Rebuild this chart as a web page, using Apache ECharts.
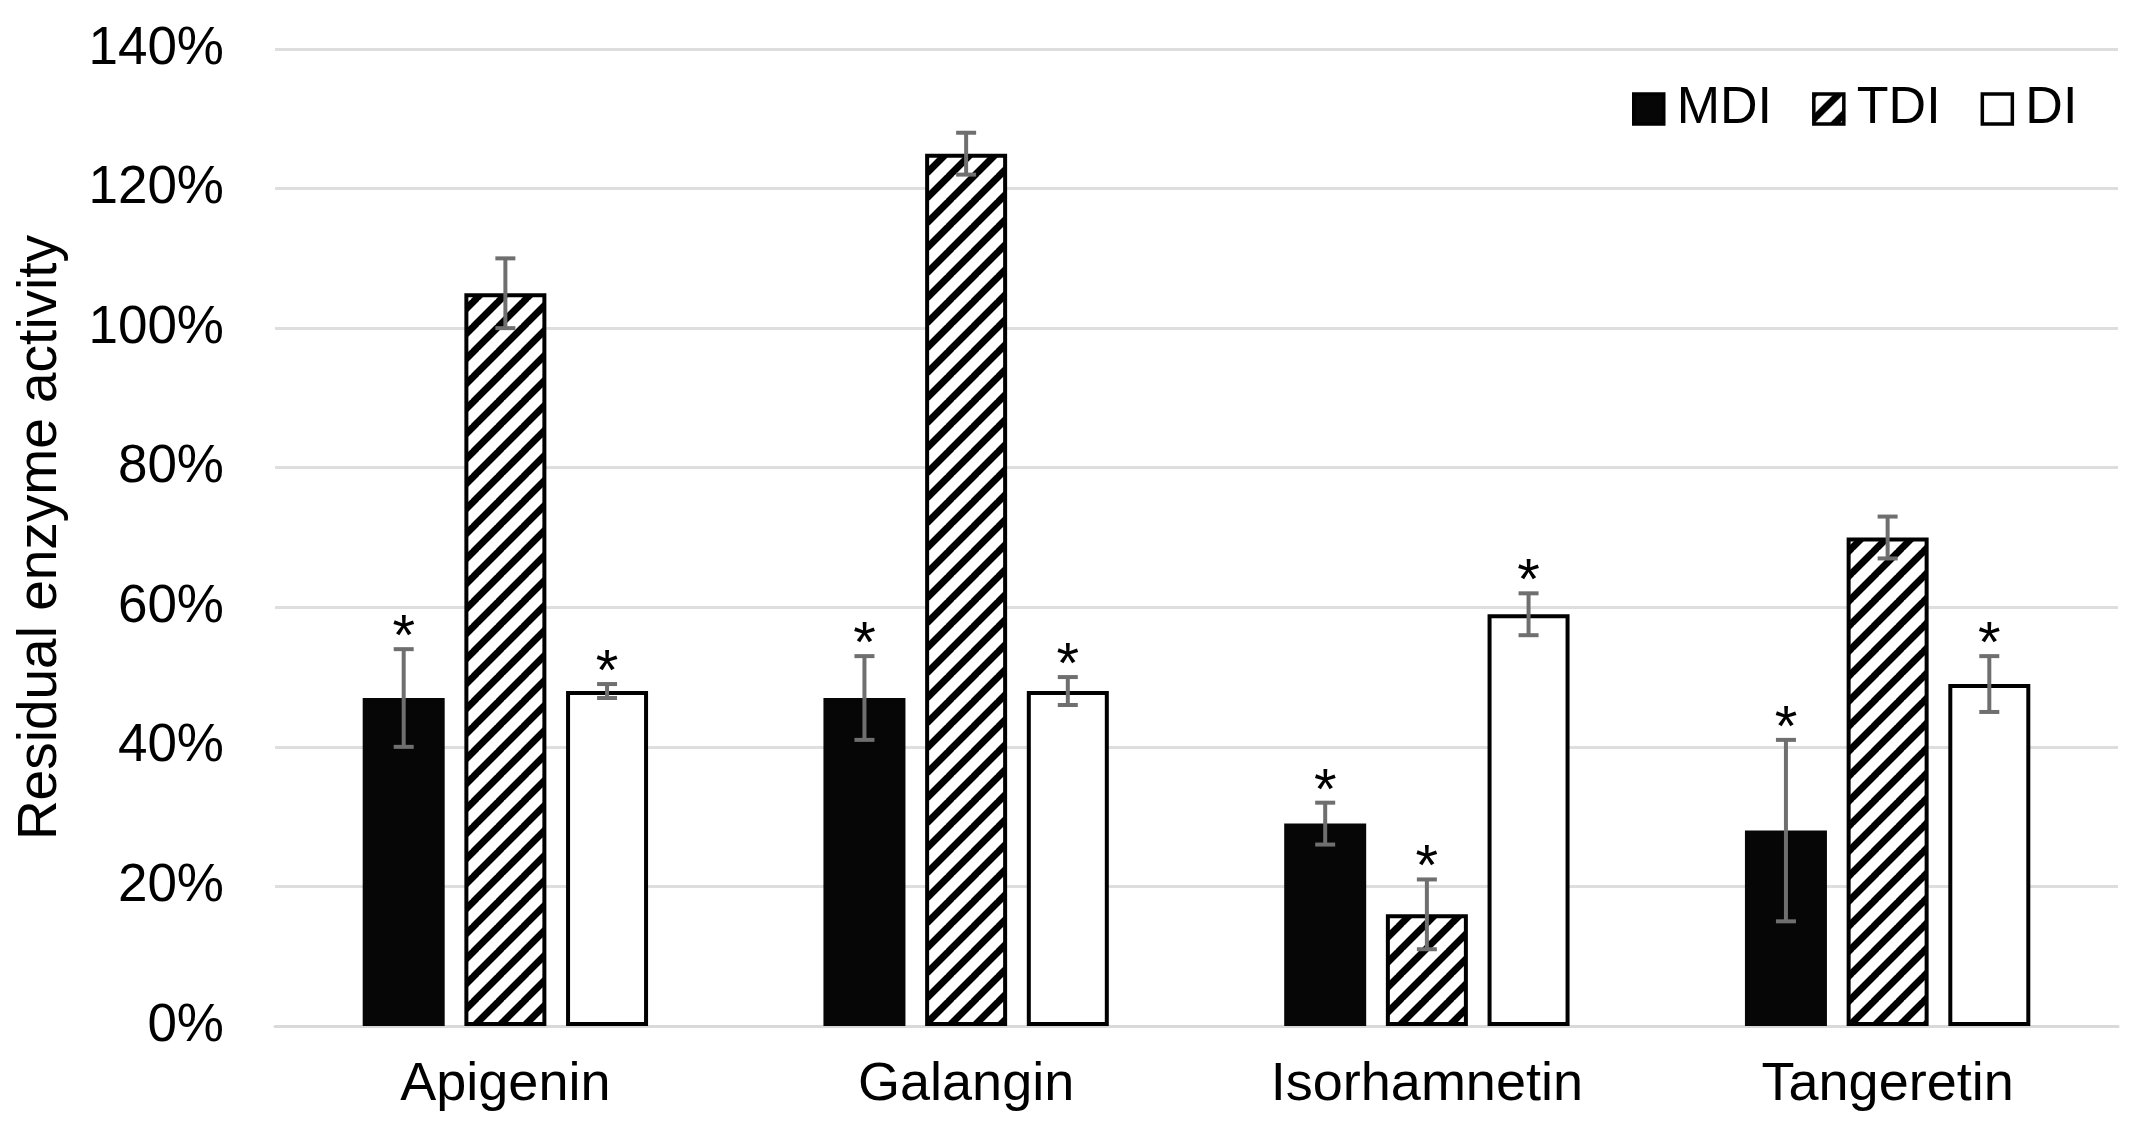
<!DOCTYPE html>
<html>
<head>
<meta charset="utf-8">
<script src="https://cdn.jsdelivr.net/npm/echarts@6/dist/echarts.min.js"></script>
<style>
  html, body { margin: 0; padding: 0; background: #fff; }
  #chart { width: 2132px; height: 1138px; }
</style>
</head>
<body>
<div id="chart"></div>
<script>
// ---- data ----
const categories = ['Apigenin', 'Galangin', 'Isorhamnetin', 'Tangeretin'];
const seriesNames = ['MDI', 'TDI', 'DI'];
const mdiValues = [47, 47, 29, 28];
const mdiErrors = [7, 6, 3, 13];
const mdiSignificant = [1, 1, 1, 1];
const tdiValues = [105, 125, 16, 70];
const tdiErrors = [5, 3, 5, 3];
const tdiSignificant = [0, 0, 1, 0];
const diValues = [48, 48, 59, 49];
const diErrors = [1, 2, 3, 4];
const diSignificant = [1, 1, 1, 1];
const yTicks = { min: 0, max: 140, interval: 20 };

// ---- styling ----
const FONT = "'Liberation Sans', Arial, sans-serif";
const BAR_W = 82;
const BAR_GAP = 0.24;

function makeHatch() {
  const p = 25;
  const c = document.createElement('canvas');
  c.width = p; c.height = p;
  const ctx = c.getContext('2d');
  ctx.fillStyle = '#fff';
  ctx.fillRect(0, 0, p, p);
  ctx.strokeStyle = '#000';
  ctx.lineWidth = 7;
  ctx.beginPath();
  for (let k = -1; k <= 1; k++) {
    ctx.moveTo(k * p - 2, p + 2);
    ctx.lineTo(k * p + p + 2, -2);
  }
  ctx.stroke();
  return c;
}
const hatch = { image: makeHatch(), repeat: 'repeat' };

const groups = [
  { name: seriesNames[0], values: mdiValues, errors: mdiErrors, sig: mdiSignificant,
    style: { color: '#060606', borderColor: '#000', borderWidth: 0 } },
  { name: seriesNames[1], values: tdiValues, errors: tdiErrors, sig: tdiSignificant,
    style: { color: hatch, borderColor: '#000', borderWidth: 4 } },
  { name: seriesNames[2], values: diValues, errors: diErrors, sig: diSignificant,
    style: { color: '#fff', borderColor: '#000', borderWidth: 4 } }
];

const barSeries = groups.map(g => ({
  name: g.name,
  type: 'bar',
  barWidth: BAR_W,
  barGap: (BAR_GAP * 100) + '%',
  itemStyle: g.style,
  emphasis: { disabled: true },
  data: g.values,
  z: 2
}));

const errData = [];
groups.forEach((g, si) => {
  g.values.forEach((v, ci) => {
    errData.push([ci, v, g.errors[ci], g.sig[ci], si]);
  });
});

const errSeries = {
  type: 'custom',
  name: 'err',
  z: 5,
  silent: true,
  data: errData,
  encode: { x: 0, y: 1 },
  renderItem: function (params, api) {
    const ci = api.value(0), v = api.value(1), e = api.value(2), s = api.value(3), si = api.value(4);
    const off = (si - 1) * BAR_W * (1 + BAR_GAP);
    const top = api.coord([ci, v + e]);
    const bot = api.coord([ci, v - e]);
    const x = top[0] + off;
    const capW = 10;
    const st = { stroke: '#6f6f6f', lineWidth: 4 };
    const children = [
      { type: 'line', shape: { x1: x, y1: top[1], x2: x, y2: bot[1] }, style: st },
      { type: 'line', shape: { x1: x - capW, y1: top[1], x2: x + capW, y2: top[1] }, style: st },
      { type: 'line', shape: { x1: x - capW, y1: bot[1], x2: x + capW, y2: bot[1] }, style: st }
    ];
    if (s) {
      children.push({
        type: 'text',
        style: {
          text: '*', x: x, y: top[1] + 19,
          textAlign: 'center', textVerticalAlign: 'bottom',
          fontSize: 58, fontFamily: FONT, fill: '#000'
        }
      });
    }
    return { type: 'group', children: children };
  }
};

const chart = echarts.init(document.getElementById('chart'), null, { renderer: 'canvas' });
chart.setOption({
  backgroundColor: '#fff',
  animation: false,
  textStyle: { fontFamily: FONT, color: '#000' },
  grid: { left: 275, right: 14, top: 49, bottom: 112, containLabel: false },
  legend: {
    data: seriesNames,
    left: 1632, top: 83,
    itemWidth: 30, itemHeight: 30, itemGap: 40,
    padding: 0,
    icon: 'rect',
    itemStyle: { borderWidth: 3.5, borderColor: '#000' },
    textStyle: { fontSize: 52, fontFamily: FONT, color: '#000', padding: [0, 0, 0, 8] },
    selectedMode: false
  },
  xAxis: {
    type: 'category',
    data: categories,
    axisTick: { show: false },
    axisLine: { lineStyle: { color: '#d9d9d9', width: 3 } },
    axisLabel: { fontSize: 54, fontFamily: FONT, color: '#000', margin: 32 }
  },
  yAxis: {
    type: 'value',
    min: yTicks.min, max: yTicks.max, interval: yTicks.interval,
    name: 'Residual enzyme activity',
    nameLocation: 'middle',
    nameGap: 207,
    nameTextStyle: { fontSize: 55, fontFamily: FONT, color: '#000' },
    axisLine: { show: false },
    axisTick: { show: false },
    axisLabel: { fontSize: 53, fontFamily: FONT, color: '#000', margin: 51, formatter: '{value}%' },
    splitLine: { lineStyle: { color: '#dedede', width: 3 } }
  },
  series: barSeries.concat([errSeries])
});
</script>
</body>
</html>
